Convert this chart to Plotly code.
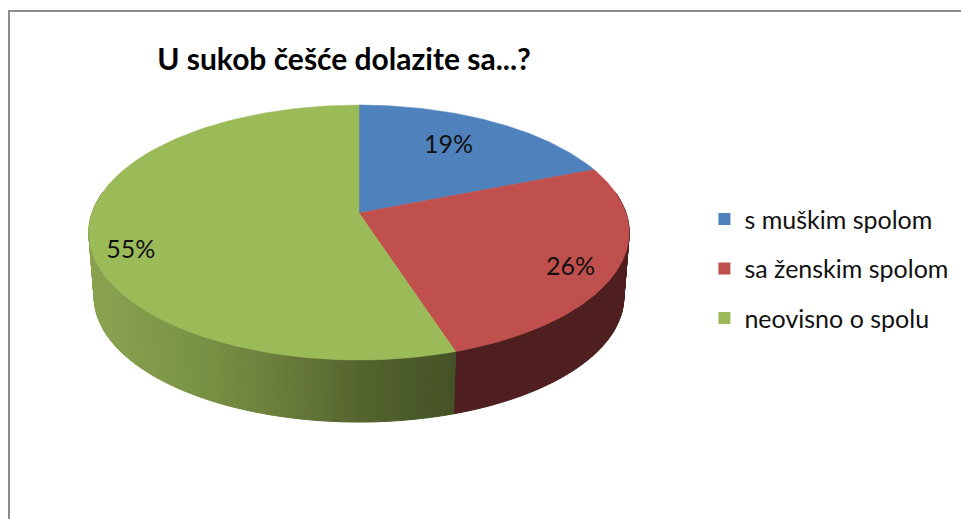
import numpy as np
import plotly.graph_objects as go

# ─── Data ───────────────────────────────────────────
TITLE = "U sukob češće dolazite sa...?"
CATEGORIES = ["s muškim spolom", "sa ženskim spolom", "neovisno o spolu"]
VALUES = [19, 26, 55]
COLORS = ["#4F81BD", "#C0504D", "#9BBB59"]

FONT = "Lato"
TEXT = "#111111"

# ─── Pie geometry (tilted disc, pixels of the 961x519 page) ──
CX, APEX_Y = 359, 213
WIDTH, HEIGHT, TILT = 267, 124.5, 0.153
DEPTH, BASE_SCALE = 65, 0.98
LABEL_RADIUS = [0.708, 0.844, 0.864]
LABEL_TURN = [-3, 3, -9.7]
LABEL_DROP = 3


def project(theta, r=1.0, scale=1.0, drop=0.0):
    """Angle clockwise from 12 o'clock (degrees) to page coordinates."""
    t = np.radians(theta)
    u, v = r * np.sin(t), r * np.cos(t)
    d = 1 + TILT * v
    return CX + scale * WIDTH * u / d, APEX_Y + drop - scale * HEIGHT * v / d


def side_color(x, base):
    # gradient on the green wall, the red wall is nearly flat
    if base == 1:
        return "#4E1F1E"
    xs = [95, 200, 280, 360, 455]
    r = np.interp(x, xs, [138, 120, 106, 84, 68])
    g = np.interp(x, xs, [162, 146, 124, 100, 82])
    b = np.interp(x, xs, [80, 68, 58, 46, 38])
    return f"rgb({r:.0f},{g:.0f},{b:.0f})"


edges = np.concatenate([[0], np.cumsum(VALUES)]) * 3.6
fig = go.Figure()

# Wall of the disc, as thin strips from the right edge round to the left edge
for i in range(1, 3):
    start, end = max(edges[i], 80), min(edges[i + 1], 280)
    steps = np.arange(start, end + 1, 1.0)
    steps[-1] = end
    for a, b in zip(steps[:-1], steps[1:]):
        xt, yt = project(np.array([a, b]))
        xb, yb = project(np.array([b, a]), scale=BASE_SCALE, drop=DEPTH)
        col = side_color(xt.mean(), i)
        fig.add_trace(
            go.Scatter(
                x=np.r_[xt, xb, xt[0]],
                y=np.r_[yt, yb, yt[0]],
                mode="lines",
                fill="toself",
                fillcolor=col,
                line=dict(color=col, width=1),
                showlegend=False,
                hoverinfo="skip",
            )
        )

# Top face
for i, cat in enumerate(CATEGORIES):
    th = np.linspace(edges[i], edges[i + 1], 120)
    xr, yr = project(th)
    fig.add_trace(
        go.Scatter(
            x=np.r_[CX, xr, CX],
            y=np.r_[APEX_Y, yr, APEX_Y],
            mode="lines",
            fill="toself",
            fillcolor=COLORS[i],
            line=dict(color=COLORS[i], width=0.5),
            showlegend=False,
            name=cat,
            hoverinfo="name",
        )
    )

# Percentage labels
mids = (edges[:-1] + edges[1:]) / 2 + np.array(LABEL_TURN)
lx, ly = zip(*[project(m, r=r, drop=LABEL_DROP) for m, r in zip(mids, LABEL_RADIUS)])
fig.add_trace(
    go.Scatter(
        x=lx,
        y=ly,
        mode="text",
        text=[f"{v}%" for v in VALUES],
        textposition="middle center",
        textfont=dict(family=FONT, size=25, color=TEXT),
        showlegend=False,
        hoverinfo="skip",
    )
)

# Legend entries
for i, cat in enumerate(CATEGORIES):
    fig.add_trace(
        go.Scatter(
            x=[None],
            y=[None],
            mode="markers",
            marker=dict(symbol="square", size=16, color=COLORS[i]),
            name=cat,
            legendgroup=cat,
        )
    )

fig.add_shape(
    type="rect", x0=9, y0=11, x1=990, y1=560,
    line=dict(color="#8C8C8C", width=2), layer="below",
)

fig.update_xaxes(visible=False, range=[0, 961])
fig.update_yaxes(visible=False, range=[519, 0])
fig.update_layout(
    width=961,
    height=519,
    margin=dict(l=0, r=0, t=0, b=0),
    plot_bgcolor="white",
    paper_bgcolor="white",
    title=dict(
        text=f"<b>{TITLE}</b>",
        font=dict(family=FONT, size=30, color="#000000"),
        x=0.358,
        xanchor="center",
        y=0.885,
        yanchor="middle",
    ),
    legend=dict(
        x=0.733,
        y=0.622,
        xanchor="left",
        yanchor="top",
        tracegroupgap=14,
        itemsizing="constant",
        font=dict(family=FONT, size=25, color=TEXT),
        bgcolor="rgba(0,0,0,0)",
    ),
)

fig.write_html(
    "out.html",
    config=dict(displayModeBar=False),
    post_script="document.body.style.margin='0';",
)
